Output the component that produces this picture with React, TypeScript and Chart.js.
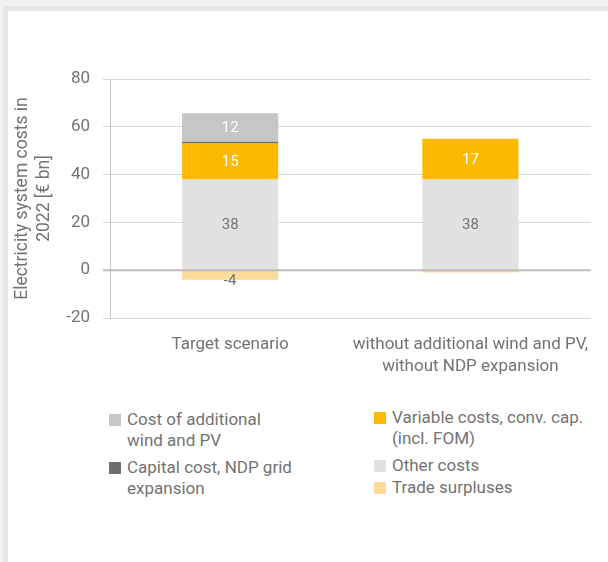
import React, { useEffect, useRef } from "react";
import { Chart, registerables } from "chart.js";

Chart.register(...registerables);

// Scenario categories (multi-line axis labels)
const categories = [["Target scenario"], ["without additional wind and PV,", "without NDP expansion"]];

// Cost components, € bn
const otherCosts = [38, 38];
const variableCosts = [15, 17];
const ndpGridCosts = [0.7, 0];
const windPvCosts = [12, 0];
const tradeSurpluses = [-4, -1];

const yTickValues = [-20, 0, 20, 40, 60, 80];

const FONT = "Roboto, 'Noto Sans', sans-serif";
const TEXT = "#737373";

const COLORS = {
  wind: "#c6c6c7",
  ndp: "#6e6e6e",
  variable: "#fbba00",
  other: "#e2e2e2",
  trade: "#fddc9a",
};

type LegendItem = { color: string; lines: string[]; left: number; top: number };

const legendItems: LegendItem[] = [
  { color: COLORS.wind, lines: ["Cost of additional", "wind and PV"], left: 109, top: 409 },
  { color: COLORS.ndp, lines: ["Capital cost, NDP grid", "expansion"], left: 109, top: 457 },
  { color: COLORS.variable, lines: ["Variable costs, conv. cap.", "(incl. FOM)"], left: 374, top: 407 },
  { color: COLORS.other, lines: ["Other costs"], left: 374, top: 455 },
  { color: COLORS.trade, lines: ["Trade surpluses"], left: 374, top: 477 },
];

// Segment value labels drawn at the middle of each bar piece
const valueLabels = {
  id: "valueLabels",
  afterDatasetsDraw(chart: any) {
    const ctx = chart.ctx;
    const yScale = chart.scales.y;
    // zero line on top of the bars
    const y0 = yScale.getPixelForValue(0);
    ctx.save();
    ctx.strokeStyle = "#bcbcbc";
    ctx.lineWidth = 2;
    ctx.beginPath();
    ctx.moveTo(chart.chartArea.left - 7, y0);
    ctx.lineTo(chart.chartArea.right, y0);
    ctx.stroke();

    ctx.font = `15px ${FONT}`;
    ctx.textAlign = "center";
    ctx.textBaseline = "middle";
    chart.data.datasets.forEach((ds: any, di: number) => {
      const meta = chart.getDatasetMeta(di);
      meta.data.forEach((bar: any, i: number) => {
        const v = ds.data[i];
        if (Math.abs(v) < 2) return;
        const props = bar.getProps(["x", "y", "base"], true);
        const y = v < 0 ? props.y : (props.y + props.base) / 2;
        ctx.fillStyle = ds.labelColor;
        ctx.fillText(String(Math.round(v)), props.x, y + 1);
      });
    });
    ctx.restore();
  },
};

function CostChart() {
  const ref = useRef<HTMLCanvasElement>(null);

  useEffect(() => {
    if (!ref.current) return;
    const mk = (label: string, data: number[], color: string, labelColor: string) => ({
      label,
      data,
      backgroundColor: color,
      borderWidth: 0,
      stack: "s",
      barPercentage: 0.4,
      categoryPercentage: 1,
      labelColor,
    });
    const chart = new Chart(ref.current, {
      type: "bar",
      data: {
        labels: categories as any,
        datasets: [
          mk("Other costs", otherCosts, COLORS.other, TEXT),
          mk("Variable costs, conv. cap. (incl. FOM)", variableCosts, COLORS.variable, "#ffffff"),
          mk("Capital cost, NDP grid expansion", ndpGridCosts, COLORS.ndp, "#ffffff"),
          mk("Cost of additional wind and PV", windPvCosts, COLORS.wind, "#ffffff"),
          mk("Trade surpluses", tradeSurpluses, COLORS.trade, TEXT),
        ] as any,
      },
      options: {
        animation: false,
        responsive: false,
        maintainAspectRatio: false,
        layout: { padding: { top: 79, right: 16, bottom: 12, left: 0 } },
        plugins: { legend: { display: false }, tooltip: { enabled: false } },
        scales: {
          x: {
            stacked: true,
            grid: { display: false, drawTicks: false },
            border: { display: false },
            ticks: { color: TEXT, font: { family: FONT, size: 17, lineHeight: 1.3 }, padding: 16, maxRotation: 0 },
            afterFit(scale: any) {
              scale.height = 70;
            },
          },
          y: {
            stacked: true,
            min: -20,
            max: 80,
            afterBuildTicks(scale: any) {
              scale.ticks = yTickValues.map((v) => ({ value: v }));
            },
            ticks: { color: TEXT, font: { family: FONT, size: 17 }, padding: 13 },
            grid: { color: "#d6d6d6", lineWidth: 1, tickLength: 7 },
            border: { display: true, color: "#c8c8c8", width: 1 },
            title: {
              display: true,
              text: ["Electricity system costs in", "2022 [€ bn]"],
              color: TEXT,
              font: { family: FONT, size: 17.5, lineHeight: 1.25 },
              padding: { top: 12, bottom: 4 },
            },
            afterFit(scale: any) {
              scale.width = 110;
            },
          },
        },
      },
      plugins: [valueLabels],
    } as any);
    return () => chart.destroy();
  }, []);

  return (
    <canvas
      ref={ref}
      width={608}
      height={400}
      style={{ position: "absolute", left: 0, top: 0, width: 608, height: 400 }}
    />
  );
}

export default function App() {
  return (
    <div
      style={{
        position: "fixed",
        left: 0,
        top: 0,
        width: 608,
        height: 562,
        background: "#f2f2f2",
        overflow: "hidden",
        fontFamily: FONT,
      }}
    >
      <div
        style={{
          position: "absolute",
          left: 3,
          top: 6,
          width: 605,
          height: 556,
          background: "#e8e8e8",
        }}
      />
      <div
        style={{
          position: "absolute",
          left: 8,
          top: 11,
          width: 600,
          height: 551,
          background: "#ffffff",
        }}
      />
      <CostChart />
      {legendItems.map((item) => (
        <div
          key={item.lines[0]}
          style={{ position: "absolute", left: item.left, top: item.top, display: "flex" }}
        >
          <div
            style={{
              width: 12,
              height: 12,
              background: item.color,
              marginTop: 5,
              marginRight: 6,
              flex: "none",
            }}
          />
          <div style={{ color: TEXT, fontSize: 17, lineHeight: "21px", whiteSpace: "nowrap" }}>
            {item.lines.map((l) => (
              <div key={l}>{l}</div>
            ))}
          </div>
        </div>
      ))}
    </div>
  );
}
